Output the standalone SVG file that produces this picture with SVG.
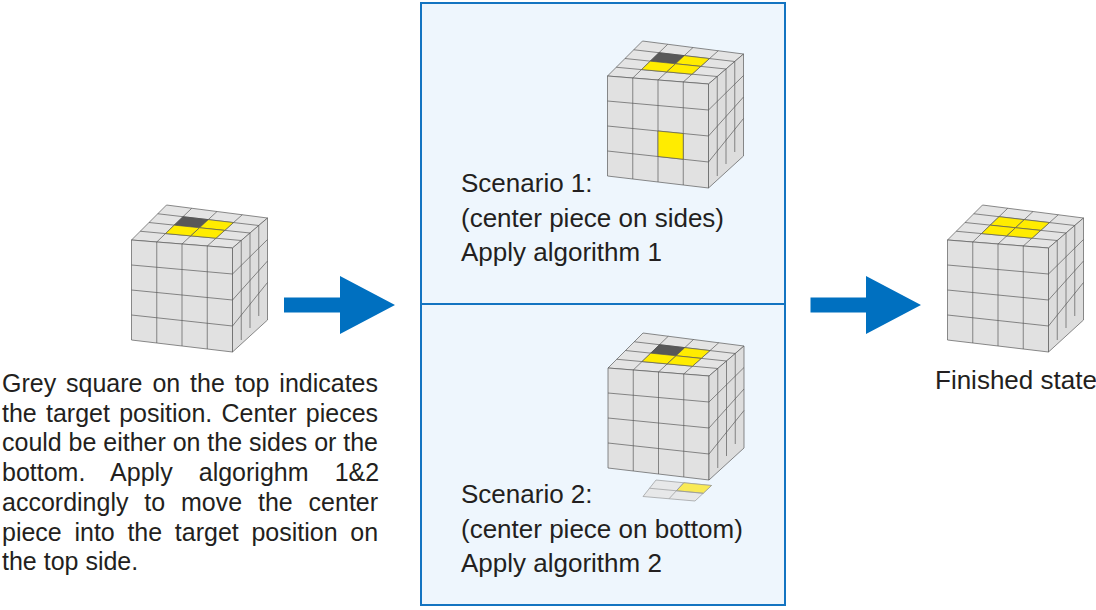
<svg xmlns="http://www.w3.org/2000/svg" xmlns:xlink="http://www.w3.org/1999/xlink" width="1096" height="610" viewBox="0 0 1096 610">
<style>
.face{fill:#e1e1e1;stroke:#5a5a5a;stroke-width:0.7;stroke-linejoin:round}
.top{fill:#e4e4e4}
.side{fill:#dddddd}
.grid{fill:none;stroke:#5a5a5a;stroke-width:0.7}
.dark{fill:#585858;stroke:#4a4a4a;stroke-width:0.7}
.yel{fill:#ffec00;stroke:#5a5a5a;stroke-width:0.7}
.txt{font-family:"Liberation Sans",Arial,Helvetica,sans-serif;font-size:25px;fill:#231f20}
.ptxt{font-family:"Liberation Sans",Arial,Helvetica,sans-serif;font-size:26px;fill:#231f20}
.arrow{fill:#0070c0}
.panel{fill:#eef6fd;stroke:#1374c1;stroke-width:2}
</style>
<defs>
<g id="cube">
<polygon class="face top" points="0,0 101,8 136,-22 35,-35"/>
<polygon class="face" points="0,0 101,8 101,112 0,100"/>
<polygon class="face side" points="101,8 136,-22 136,80 101,112"/>
<path class="grid" d="M25.25,2 L60.25,-31.75 M50.5,4 L85.5,-28.5 M75.75,6 L110.75,-25.25 M8.75,-8.75 L109.75,0.5 M17.5,-17.5 L118.5,-7 M26.25,-26.25 L127.25,-14.5 M25.25,2 L25.25,103 M50.5,4 L50.5,106 M75.75,6 L75.75,109 M0,25 L101,34 M0,50 L101,60 M0,75 L101,86 M109.75,0.5 L109.75,100 M118.5,-7 L118.5,88 M127.25,-14.5 L127.25,76 M101,34 L136,-0.5 M101,60 L136,21 M101,86 L136,42.5"/>
</g>
<g id="topTarget">
<polygon class="dark" points="42.75,-14.875 68,-12.25 76.75,-20.375 51.5,-23.3125"/>
<polygon class="yel" points="68,-12.25 93.25,-9.625 102,-17.4375 76.75,-20.375"/>
<polygon class="yel" points="34,-6.4375 59.25,-4.125 68,-12.25 42.75,-14.875"/>
<polygon class="yel" points="59.25,-4.125 84.5,-1.8125 93.25,-9.625 68,-12.25"/>
</g>
</defs>

<rect x="0" y="0" width="1096" height="610" fill="#ffffff"/>

<g id="panel">
<rect class="panel" x="421" y="3" width="364" height="602"/>
<line x1="421" y1="304" x2="785" y2="304" stroke="#1374c1" stroke-width="2"/>
</g>

<g id="start-cube" transform="translate(131.5,240)">
<use xlink:href="#cube" href="#cube"/>
<use xlink:href="#topTarget" href="#topTarget"/>
</g>

<g id="start-text" class="txt">
<text x="2" y="392" word-spacing="2.94">Grey square on the top indicates</text>
<text x="2" y="421.7" word-spacing="2.29">the target position. Center pieces</text>
<text x="2" y="451.4" word-spacing="-0.09">could be either on the sides or the</text>
<text x="2" y="481.1" word-spacing="19.17">bottom. Apply algorighm 1&amp;2</text>
<text x="2" y="510.8" word-spacing="8.9">accordingly to move the center</text>
<text x="2" y="540.5" word-spacing="5.72">piece into the target position on</text>
<text x="2" y="570.2">the top side.</text>
</g>

<g id="scenario1">
<g transform="translate(607.5,76)">
<use xlink:href="#cube" href="#cube"/>
<use xlink:href="#topTarget" href="#topTarget"/>
<polygon class="yel" points="50.5,55 75.75,57.5 75.75,83.25 50.5,80.5"/>
</g>
<text class="ptxt" x="461" y="192">Scenario 1:</text>
<text class="ptxt" x="461" y="227">(center piece on sides)</text>
<text class="ptxt" x="461" y="261">Apply algorithm 1</text>
</g>

<g id="scenario2">
<g transform="translate(608,368)">
<use xlink:href="#cube" href="#cube"/>
<use xlink:href="#topTarget" href="#topTarget"/>
</g>
<g id="bottom-piece" opacity="0.85">
<polygon points="656,480 711.5,485.5 695,501 643,496.5" fill="#e6e6e6" stroke="#8a8a8a" stroke-width="0.7"/>
<polygon points="683.75,482.75 711.5,485.5 703.25,493.25 676.4,490.75" fill="#fbe838" stroke="#8a8a8a" stroke-width="0.7"/>
<path d="M683.75,482.75 L669,498.75 M649.5,488.25 L703.25,493.25" fill="none" stroke="#8a8a8a" stroke-width="0.7"/>
</g>
<text class="ptxt" x="461" y="503">Scenario 2:</text>
<text class="ptxt" x="461" y="538">(center piece on bottom)</text>
<text class="ptxt" x="461" y="572">Apply algorithm 2</text>
</g>

<g id="finished">
<g transform="translate(947.5,240)">
<use xlink:href="#cube" href="#cube"/>
<polygon class="yel" points="42.75,-14.875 68,-12.25 76.75,-20.375 51.5,-23.3125"/>
<polygon class="yel" points="68,-12.25 93.25,-9.625 102,-17.4375 76.75,-20.375"/>
<polygon class="yel" points="34,-6.4375 59.25,-4.125 68,-12.25 42.75,-14.875"/>
<polygon class="yel" points="59.25,-4.125 84.5,-1.8125 93.25,-9.625 68,-12.25"/>
</g>
<text class="ptxt" x="935" y="389" font-size="25">Finished state</text>
</g>

<g id="connectors">
<polygon class="arrow" points="284,297.5 340,297.5 340,276 395,305 340,334 340,312.5 284,312.5"/>
<polygon class="arrow" points="810.5,297.5 866,297.5 866,276 921,305 866,334 866,312.5 810.5,312.5"/>
</g>
</svg>
